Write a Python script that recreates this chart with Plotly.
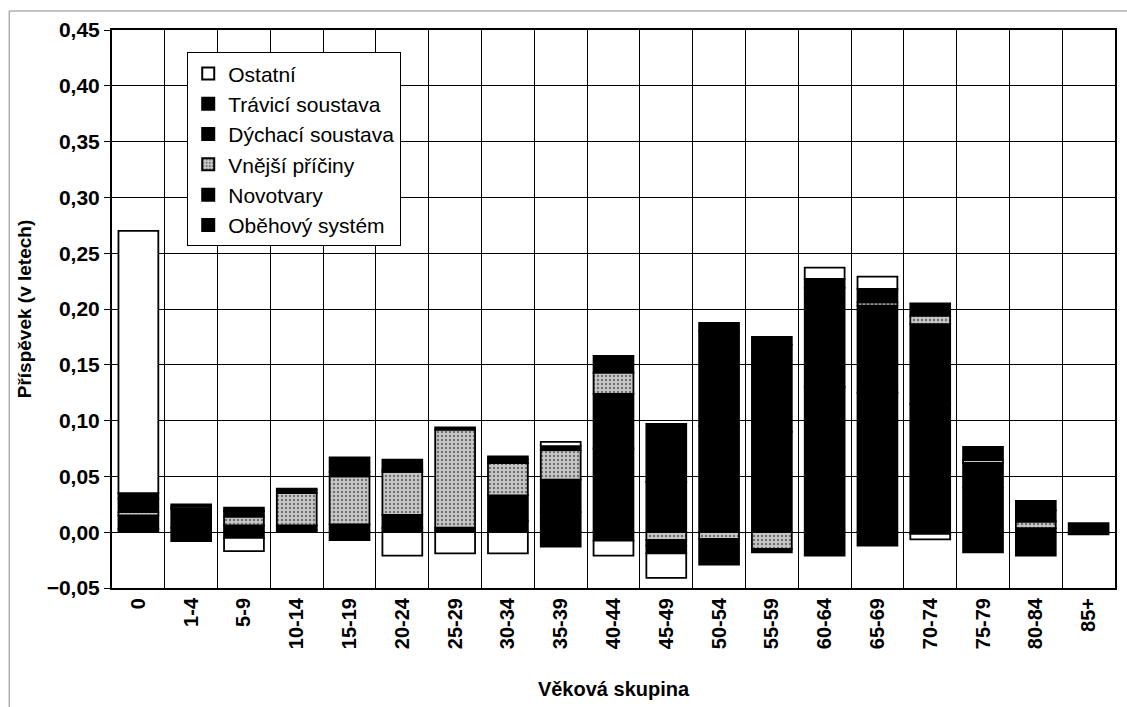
import plotly.graph_objects as go

# Age groups on the horizontal axis
age_groups = ["0", "1-4", "5-9", "10-14", "15-19", "20-24", "25-29", "30-34", "35-39",
              "40-44", "45-49", "50-54", "55-59", "60-64", "65-69", "70-74", "75-79",
              "80-84", "85+"]

# Contribution (years) by cause of death, one list per cause
obehovy = [0.003, 0.004, -0.005, 0.002, -0.007, 0.004, 0.002, 0.010, 0.018,
           0.075, 0.045, 0.095, 0.090, 0.130, 0.125, 0.115, 0.040, -0.021, 0.008]
novotvary = [0.012, 0.017, 0.006, 0.004, 0.007, 0.0115, 0.002, 0.023, 0.029,
             0.049, 0.052, 0.085, 0.078, 0.089, 0.078, 0.0715, 0.022, 0.0036, -0.002]
vnejsi = [0.003, 0.002, 0.008, 0.029, 0.043, 0.0385, 0.088, 0.029, 0.0265,
          0.019, -0.007, -0.006, -0.015, None, 0.003, 0.0075, 0.0025, 0.006, None]
dychaci = [0.012, 0.002, 0.005, 0.003, 0.004, 0.002, 0.002, 0.003, -0.013,
           -0.0075, -0.005, 0.0075, 0.007, 0.008, 0.012, 0.011, 0.012, 0.010, None]
travici = [0.005, -0.008, 0.003, 0.001, 0.013, 0.009, None, 0.003, 0.0035,
           0.015, -0.007, -0.023, -0.003, -0.021, -0.012, -0.0015, -0.018, 0.0084, None]
ostatni = [0.235, None, -0.012, None, None, -0.021, -0.019, -0.019, 0.004,
           -0.0135, -0.022, None, None, 0.010, 0.011, -0.005, None, None, None]

y_tick_values = [-0.05, 0.0, 0.05, 0.10, 0.15, 0.20, 0.25, 0.30, 0.35, 0.40, 0.45]

FONT = "Liberation Sans, Arial, sans-serif"
outline = dict(color="black", width=1.8)

fig = go.Figure()
series = [
    ("Oběhový systém", obehovy, dict(color="black", line=outline)),
    ("Novotvary", novotvary, dict(color="black", line=outline)),
    ("Vnější příčiny", vnejsi, dict(color="#b5b5b5", line=outline,
                                    pattern=dict(shape=".", fgcolor="#1a1a1a",
                                                 bgcolor="#c8c8c8", size=4,
                                                 solidity=0.3))),
    ("Dýchací soustava", dychaci, dict(color="black", line=outline)),
    ("Trávicí soustava", travici, dict(color="black", line=outline)),
    ("Ostatní", ostatni, dict(color="white", line=outline)),
]
for name, vals, marker in series:
    fig.add_trace(go.Bar(x=age_groups, y=vals, name=name, marker=marker))

fig.update_layout(
    width=1127, height=707,
    barmode="relative", bargap=0.245,
    paper_bgcolor="white", plot_bgcolor="white",
    separators=", ",
    margin=dict(l=112, r=10, t=30, b=118),
    font=dict(family=FONT, color="black"),
    showlegend=True,
    legend=dict(
        x=0.075, y=0.96, xanchor="left", yanchor="top",
        traceorder="reversed",
        bgcolor="white", bordercolor="black", borderwidth=1,
        font=dict(family=FONT, size=21, color="black"),
        itemsizing="constant", itemwidth=30,
    ),
    shapes=[dict(type="rect", xref="paper", yref="paper",
                 x0=-0.1025, x1=1.05, y0=-0.3, y1=1.034,
                 line=dict(color="#888888", width=1), layer="below")],
)

fig.update_xaxes(
    type="category", tickson="boundaries", ticks="",
    tickangle=-90, tickfont=dict(family=FONT, size=20, color="black", weight="bold"),
    showgrid=True, gridcolor="black", gridwidth=1,
    showline=True, linecolor="black", linewidth=2, mirror=True,
    title=dict(text="<b>Věková skupina</b>", font=dict(family=FONT, size=20),
               standoff=34),
)
fig.update_yaxes(
    range=[-0.05, 0.45], tickvals=y_tick_values, tickformat=".2f",
    ticks="outside", ticklen=6, tickcolor="black",
    tickfont=dict(family=FONT, size=21, color="black", weight="bold"),
    showgrid=True, gridcolor="black", gridwidth=1, zeroline=False,
    showline=True, linecolor="black", linewidth=2, mirror=True,
    title=dict(text="<b>Příspěvek (v letech)</b>", font=dict(family=FONT, size=19),
               standoff=10),
)

fig.write_html("out.html")
